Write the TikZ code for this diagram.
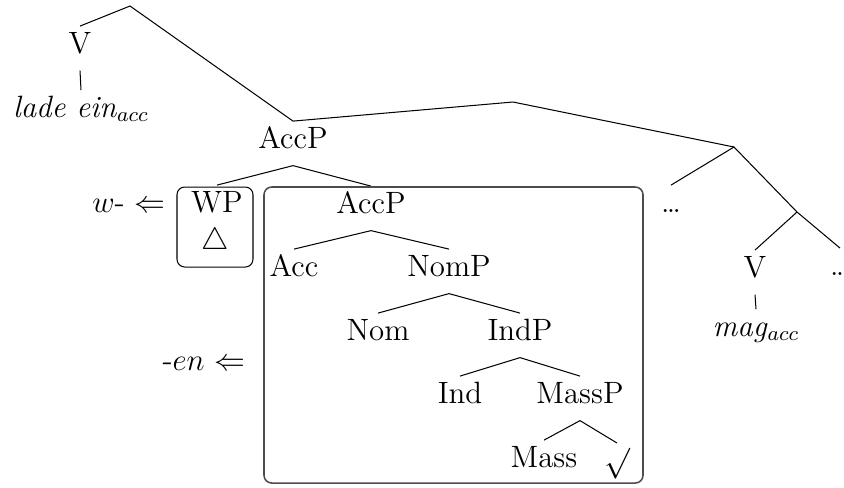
\documentclass[tikz,border=0pt,12pt]{standalone}

\begin{document}
\begin{tikzpicture}[
    x=0.1368mm, y=-0.1368mm,
    cat/.style={anchor=base, inner sep=2pt, text height=1.6ex, text depth=0.9ex},
    leaf/.style={inner sep=2pt},
    branch/.style={line width=0.4pt},
    frame/.style={rounded corners=3pt, line width=0.4pt},
]
\useasboundingbox (0,0) rectangle (844,487);

% Branching points without labels
\coordinate (top) at (130,6);
\coordinate (vp) at (513,102);
\coordinate (vbar) at (734,147);
\coordinate (vlow) at (797,212);

% Upper spine
\node[cat] (v1) at (80,53) {V};
\node[cat] (ladeein) at (81,117) {\textit{lade ein}$_{acc}$};
\node[cat] (accP) at (293,148) {AccP};
\node[cat] (dotsA) at (671,212) {\ldots};
\node[cat] (v2) at (755,277) {V};
\node[cat] (mag) at (756,336) {\textit{mag}$_{acc}$};
\node[cat] (dotsB) at (840,275) {\ldots};

% Fronted WP and the spelled-out AccP
\node[cat] (wp) at (217,212) {WP};
\node (tri) at (215,242) {$\triangle$};
\node[cat] (accPin) at (371,213) {AccP};
\node[cat] (acc) at (294,276) {Acc};
\node[cat] (nomP) at (449,276) {NomP};
\node[cat] (nom) at (378,340) {Nom};
\node[cat] (indP) at (520,340) {IndP};
\node[cat] (ind) at (460,403) {Ind};
\node[cat] (massP) at (580,403) {MassP};
\node[cat] (mass) at (544,467) {Mass};
\node[leaf, anchor=north] (root) at (617,443) {$\surd$};

% Exponents
\node[anchor=base] (wexp) at (129,212) {$w$- $\Leftarrow$};
\node[anchor=base] (enexp) at (204,370) {-$en$ $\Leftarrow$};

% Branches
\draw[branch] (v1.north) -- (top) -- (accP.north) -- (vp) -- (vbar);
\draw[branch] (v1.south) -- (ladeein.north);
\draw[branch] (dotsA.north) -- (vbar) -- (vlow) -- (dotsB.north);
\draw[branch] (vlow) -- (v2.north);
\draw[branch] (v2.south) -- (mag.north);
\draw[branch] (wp.north) -- (accP.south) -- (accPin.north);
\draw[branch] (acc.north) -- (accPin.south) -- (nomP.north);
\draw[branch] (nom.north) -- (nomP.south) -- (indP.north);
\draw[branch] (ind.north) -- (indP.south) -- (massP.north);
\draw[branch] (mass.north) -- (massP.south) -- (root.north);

% Boxes
\draw[frame] (177,187) rectangle (253,267);
\draw[frame, draw=black!70, line width=0.6pt] (264,187) rectangle (643,483);

\end{tikzpicture}
\end{document}
